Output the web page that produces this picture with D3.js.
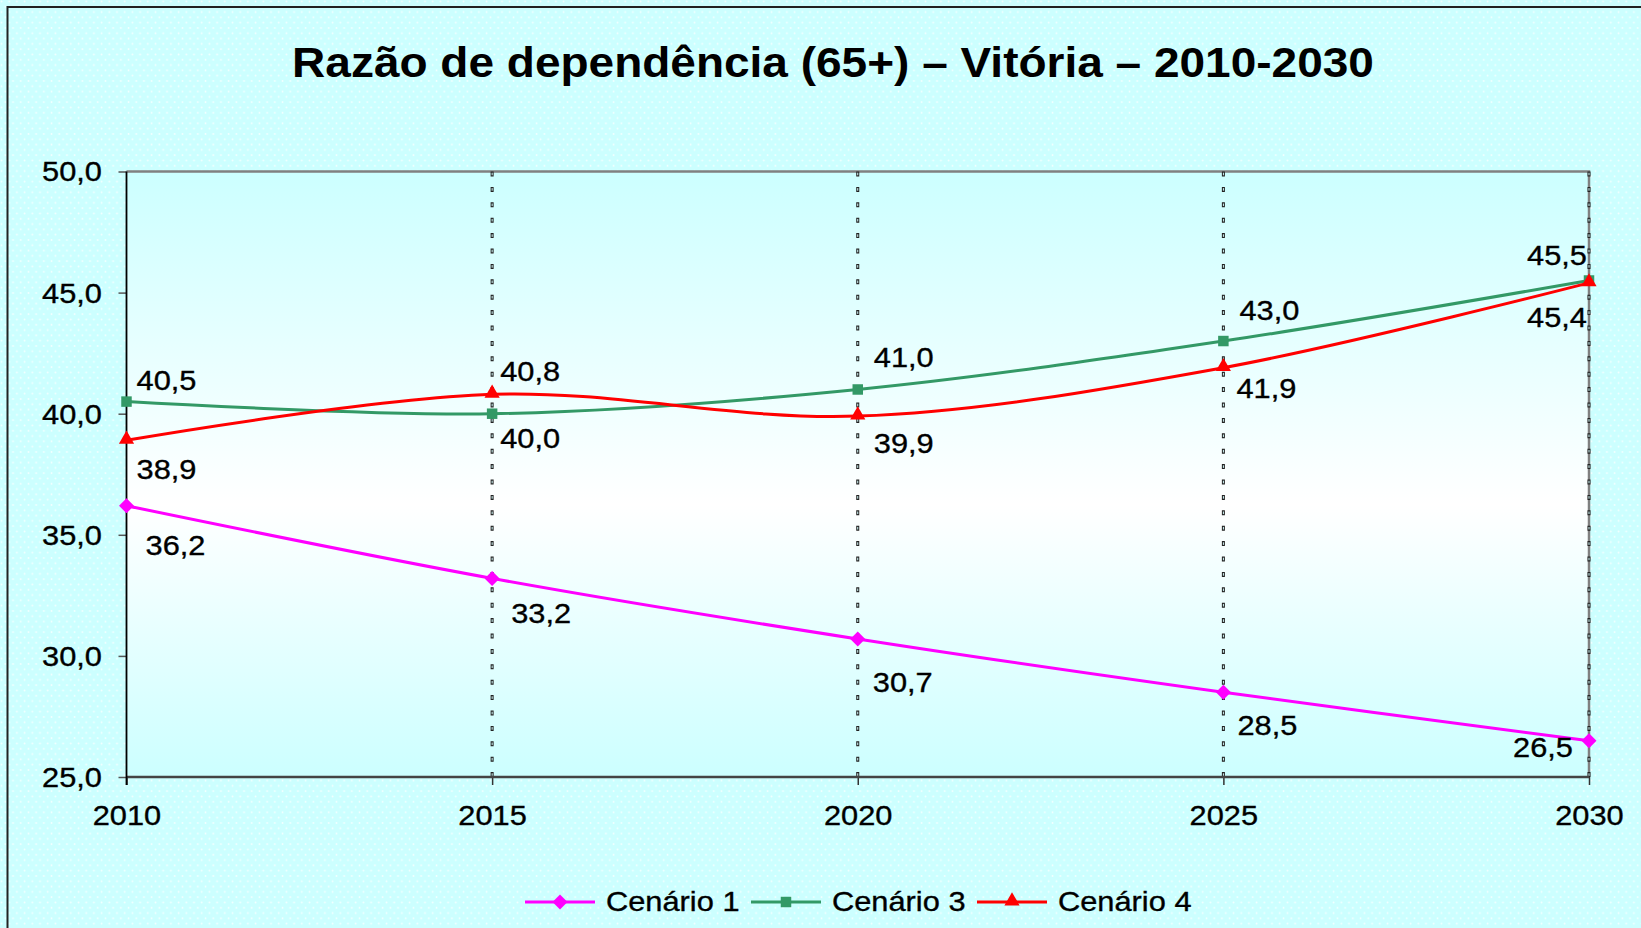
<!DOCTYPE html>
<html>
<head>
<meta charset="utf-8">
<script src="https://cdn.jsdelivr.net/npm/d3@7"></script>
<style>
  html, body { margin: 0; padding: 0; background: #ccffff; }
  svg { display: block; }
  text { font-family: "Liberation Sans", Arial, sans-serif; fill: #000; }
  .lbl { stroke: #000; stroke-width: 0.35px; }
</style>
</head>
<body>
<svg id="chart" width="1641" height="928"></svg>
<script>
// Dependency ratio (65+) for Vitória, three projection scenarios
const years = [2010, 2015, 2020, 2025, 2030];
const cenario1 = [36.2, 33.2, 30.7, 28.5, 26.5];
const cenario3 = [40.5, 40.0, 41.0, 43.0, 45.5];
const cenario4 = [38.9, 40.8, 39.9, 41.9, 45.4];
const yTicks = [25, 30, 35, 40, 45, 50];
const seriesNames = ["Cenário 1", "Cenário 3", "Cenário 4"];
const titleText = "Razão de dependência (65+) – Vitória – 2010-2030";

// Placement of each value label relative to its point (px)
const labelOffsets = [
  [[49, 40], [49, 35], [45, 44], [44, 33], [-46, 7]],
  [[40, -21], [38, 25], [46, -32], [46, -30], [-32, -25]],
  [[40, 29], [38, -23], [46, 27], [43, 21], [-32, 35]]
];
const seriesStyle = [
  { color: "#ff00ff", symbol: "diamond" },
  { color: "#339966", symbol: "square" },
  { color: "#ff0000", symbol: "triangle" }
];

const series = [cenario1, cenario3, cenario4].map((vals, i) => ({
  name: seriesNames[i],
  values: vals.map((v, j) => ({ year: years[j], value: v })),
  ...seriesStyle[i]
}));

const svg = d3.select("#chart");
const W = 1641, H = 928;
const plot = { left: 126.5, right: 1589, top: 171.5, bottom: 777 };
const SX = 1.12; // horizontal stretch of the labels

const fmt = v => d3.format(".1f")(v).replace(".", ",");

const x = d3.scaleLinear().domain([2010, 2030]).range([plot.left, plot.right]);
const y = d3.scaleLinear().domain([25, 50]).range([plot.bottom, plot.top]);

// ----- defs: dotted chart-area fill and plot gradient
const defs = svg.append("defs");
const pat = defs.append("pattern")
  .attr("id", "dots").attr("patternUnits", "userSpaceOnUse")
  .attr("width", 7.7).attr("height", 10.6);
pat.append("rect").attr("width", 7.7).attr("height", 10.6).attr("fill", "#ccffff");
pat.append("circle").attr("cx", 1.5).attr("cy", 1.5).attr("r", 0.95).attr("fill", "#f4ffff");
pat.append("circle").attr("cx", 5.35).attr("cy", 6.8).attr("r", 0.95).attr("fill", "#f4ffff");

const grad = defs.append("linearGradient")
  .attr("id", "plotGrad").attr("x1", 0).attr("y1", 0).attr("x2", 0).attr("y2", 1);
grad.append("stop").attr("offset", "0%").attr("stop-color", "#ccffff");
grad.append("stop").attr("offset", "55%").attr("stop-color", "#ffffff");
grad.append("stop").attr("offset", "100%").attr("stop-color", "#ccffff");

// ----- chart area
svg.append("rect").attr("x", 0).attr("y", 0).attr("width", W).attr("height", H).attr("fill", "url(#dots)");
svg.append("rect").attr("x", 7.5).attr("y", 7).attr("width", W + 20).attr("height", H + 20)
  .attr("fill", "none").attr("stroke", "#222").attr("stroke-width", 2);

// helper for horizontally stretched text
function stretchedText(parent, tx, ty, str, opts) {
  const g = parent.append("g")
    .attr("transform", `translate(${tx},${ty}) scale(${opts.sx || SX},1)`);
  return g.append("text")
    .attr("class", opts.cls || null)
    .attr("text-anchor", opts.anchor || "middle")
    .attr("dominant-baseline", opts.baseline || "central")
    .attr("font-size", opts.size)
    .attr("font-weight", opts.weight || "normal")
    .text(str);
}

// title
stretchedText(svg, 833, 77, titleText, { size: 43, weight: "bold", baseline: "alphabetic", sx: 1.07 });

// ----- plot area
svg.append("rect")
  .attr("x", plot.left).attr("y", plot.top)
  .attr("width", plot.right - plot.left).attr("height", plot.bottom - plot.top)
  .attr("fill", "url(#plotGrad)");
svg.append("path")
  .attr("d", `M${plot.left},${plot.top}H${plot.right}V${plot.bottom}`)
  .attr("fill", "none").attr("stroke", "#808080").attr("stroke-width", 2.5);

// vertical dotted gridlines (small hollow dashes)
const gridG = svg.append("g");
gridG.selectAll("line.gd")
  .data(years.slice(1))
  .join("line")
  .attr("class", "gd")
  .attr("x1", d => x(d)).attr("x2", d => x(d))
  .attr("y1", plot.top).attr("y2", plot.bottom)
  .attr("stroke", "#222").attr("stroke-width", 3)
  .attr("stroke-dasharray", "5 10.4");
gridG.selectAll("line.gl")
  .data(years.slice(1))
  .join("line")
  .attr("class", "gl")
  .attr("x1", d => x(d)).attr("x2", d => x(d))
  .attr("y1", plot.top).attr("y2", plot.bottom)
  .attr("stroke", "#d8ffff").attr("stroke-width", 1)
  .attr("stroke-dasharray", "0 1.2 2.6 11.6");

// y axis
const yAxis = svg.append("g")
  .attr("transform", `translate(${plot.left},0)`)
  .call(d3.axisLeft(y).tickValues(yTicks).tickSize(8).tickFormat(fmt));
yAxis.select(".domain").remove();
yAxis.selectAll(".tick line").attr("stroke", "#555").attr("stroke-width", 1.5);
yAxis.selectAll(".tick text")
  .attr("class", "lbl")
  .attr("x", 0).attr("dy", null)
  .attr("dominant-baseline", "central")
  .attr("font-size", 27.5)
  .attr("font-family", null)
  .attr("transform", `translate(-24.5,0) scale(${SX},1)`);

// x axis
const xAxis = svg.append("g")
  .attr("transform", `translate(0,${plot.bottom})`)
  .call(d3.axisBottom(x).tickValues(years).tickSize(8).tickFormat(d3.format("d")));
xAxis.select(".domain").remove();
xAxis.selectAll(".tick line").attr("stroke", "#333").attr("stroke-width", 1.5);
xAxis.selectAll(".tick text")
  .attr("class", "lbl")
  .attr("y", 0).attr("dy", null)
  .attr("dominant-baseline", "central")
  .attr("font-size", 27.5)
  .attr("font-family", null)
  .attr("transform", `translate(0,39) scale(${SX},1)`);

// axis lines
svg.append("line")
  .attr("x1", plot.left).attr("x2", plot.right).attr("y1", plot.bottom).attr("y2", plot.bottom)
  .attr("stroke", "#444").attr("stroke-width", 2.5);
svg.append("line")
  .attr("x1", plot.left).attr("x2", plot.left).attr("y1", plot.top).attr("y2", plot.bottom + 8)
  .attr("stroke", "#000").attr("stroke-width", 1.8);

// ----- series
const line = d3.line()
  .x(d => x(d.year)).y(d => y(d.value))
  .curve(d3.curveCardinal.tension(0));

const symbolPath = {
  diamond: d3.symbol().type(d3.symbolSquare).size(112)(),
  square: d3.symbol().type(d3.symbolSquare).size(110)(),
  triangle: d3.symbol().type(d3.symbolTriangle).size(100)()
};
function drawMarker(g, kind, cx, cy, color) {
  g.append("path")
    .attr("d", symbolPath[kind])
    .attr("transform", `translate(${cx},${cy})${kind === "diamond" ? " rotate(45)" : ""}${kind === "triangle" ? " translate(0,-1)" : ""}`)
    .attr("fill", color);
}

const seriesG = svg.append("g");
series.forEach(s => {
  seriesG.append("path")
    .datum(s.values)
    .attr("d", line)
    .attr("fill", "none")
    .attr("stroke", s.color)
    .attr("stroke-width", 3);
});
series.forEach(s => {
  s.values.forEach(d => drawMarker(seriesG, s.symbol, x(d.year), y(d.value), s.color));
});

// value labels
const labelG = svg.append("g");
series.forEach((s, i) => {
  s.values.forEach((d, j) => {
    const [dx, dy] = labelOffsets[i][j];
    stretchedText(labelG, x(d.year) + dx, y(d.value) + dy, fmt(d.value), { size: 27.5, cls: "lbl" });
  });
});

// ----- legend
const legendY = 902;
const legendX = [525, 751, 977];
const legend = svg.append("g");
series.forEach((s, i) => {
  const lx = legendX[i];
  legend.append("line")
    .attr("x1", lx).attr("x2", lx + 70).attr("y1", legendY).attr("y2", legendY)
    .attr("stroke", s.color).attr("stroke-width", 3);
  drawMarker(legend, s.symbol, lx + 35, legendY, s.color);
  stretchedText(legend, lx + 81, legendY, s.name, { size: 27.5, anchor: "start", cls: "lbl" });
});
</script>
</body>
</html>
